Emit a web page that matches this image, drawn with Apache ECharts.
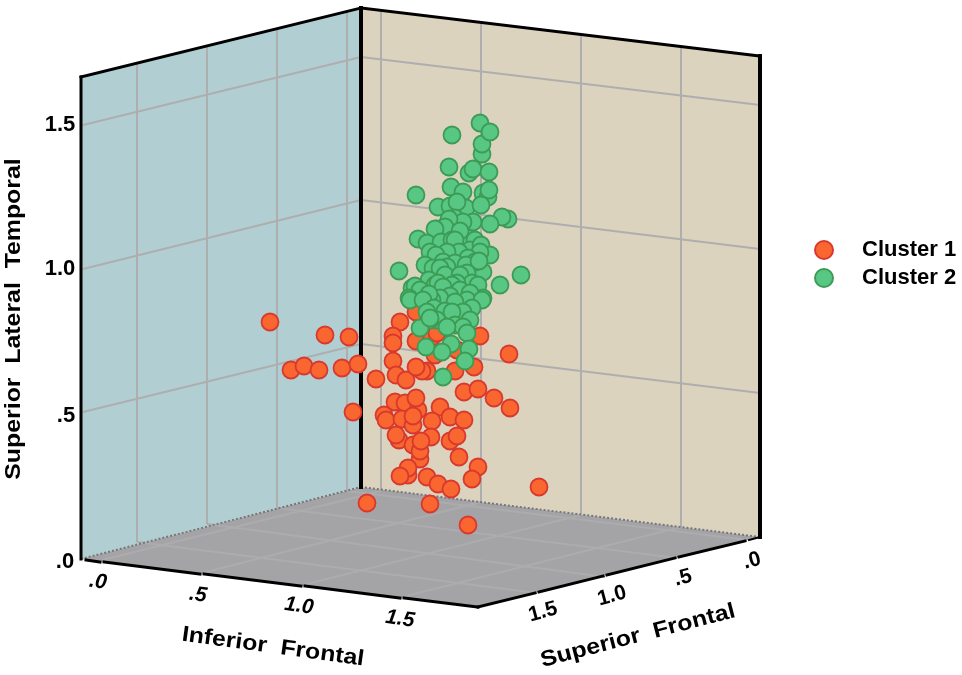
<!DOCTYPE html>
<html><head><meta charset="utf-8">
<style>html,body{margin:0;padding:0;background:#fff}#c{width:962px;height:675px}</style>
<script src="https://cdn.jsdelivr.net/npm/echarts@6/dist/echarts.min.js"></script>
</head><body><div id="c"></div>
<script>
// Values, on the chart's flat viewing plane.
const cluster1 = [[270,322],[325,335],[349,337],[291,370],[304,366],[319,370],[342,368],[358,364],[376,379],[353,412],[400,322],[416,312],[393,336],[393,343],[416,341],[432,337],[437,333],[435,355],[457,350],[393,361],[396,375],[406,380],[427,371],[422,371],[416,367],[455,371],[474,367],[480,336],[509,354],[464,392],[478,389],[494,398],[510,408],[395,402],[405,403],[418,410],[416,398],[440,407],[450,417],[464,420],[432,421],[384,415],[386,420],[402,419],[413,425],[413,416],[399,440],[396,435],[431,437],[450,441],[457,436],[413,445],[420,459],[420,451],[421,441],[459,457],[478,467],[472,479],[408,475],[408,468],[400,476],[427,477],[438,484],[451,489],[539,487],[367,503],[430,504],[468,525]];
const cluster2 = [[482,154],[482,144],[480,123],[490,132],[452,135],[449,167],[469,173],[473,169],[489,172],[416,195],[451,187],[483,193],[488,197],[489,190],[463,192],[438,207],[450,206],[466,208],[457,202],[481,205],[508,219],[502,217],[490,224],[473,222],[455,218],[463,222],[437,229],[446,226],[449,219],[445,227],[435,229],[467,238],[460,231],[418,239],[427,243],[441,242],[475,240],[452,240],[455,240],[470,250],[459,252],[481,245],[490,255],[480,252],[430,252],[447,252],[436,255],[468,258],[443,262],[521,275],[500,285],[399,271],[425,265],[483,272],[467,266],[455,263],[475,262],[433,268],[447,267],[440,268],[466,265],[479,261],[467,273],[445,275],[460,275],[429,280],[472,283],[478,285],[457,283],[452,285],[435,285],[438,283],[443,287],[460,290],[412,288],[415,286],[420,290],[409,298],[483,298],[470,293],[450,296],[440,298],[432,300],[425,300],[429,294],[467,300],[455,302],[482,300],[410,300],[423,300],[472,308],[434,308],[445,311],[427,312],[463,312],[452,312],[437,320],[455,325],[470,320],[430,320],[420,328],[430,318],[463,327],[467,333],[447,327],[426,347],[469,349],[451,344],[442,352],[465,361],[443,377]];
const seriesNames = ['Cluster 1','Cluster 2'];
const tickLabels = ['.0','.5','1.0','1.5'];
const axisTitles = ['Superior  Lateral  Temporal','Inferior  Frontal','Superior  Frontal'];

// Geometry of the box in the same plane.
const wallLeft = [[81,77],[361,8],[361,487],[81,559]];
const wallRight = [[361,8],[760,56],[760,537],[361,487]];
const floorPlane = [[81,559],[361,487],[760,537],[478,607]];
const gridLines = [
 [[137,63],[137,542]],[[207,47],[207,524]],[[277,30],[277,508]],[[347,12],[347,491]],
 [[83,125],[361,57]],[[83,269],[361,200]],[[83,412],[361,344]],
 [[381,10],[381,490]],[[481,22],[481,502]],[[581,34],[581,514]],[[681,47],[681,527]],
 [[361,57],[760,105]],[[361,200],[760,249]],[[361,344],[760,393]]];
const floorGrid = [
 [[102,560],[381,491]],[[202,573],[481,502]],[[303,585],[581,515]],[[402,597],[681,527]],
 [[347,491],[747,540]],[[277,508],[677,558]],[[207,524],[605,577]],[[137,542],[537,593]]];
const blackLines = [
 {p:[[81,77],[361,8]],w:3},{p:[[361,8],[760,56]],w:3},{p:[[81,77],[81,559]],w:3},
 {p:[[361,8],[361,487]],w:4},{p:[[760,56],[760,537]],w:4},
 {p:[[86,560],[100,562]],w:3},{p:[[104,562],[200,574]],w:3},{p:[[204,574],[301,586]],w:3},{p:[[305,586],[400,598]],w:3},{p:[[404,598],[478,607]],w:3},
 {p:[[478,607],[535,593]],w:3},{p:[[539,592],[603,576]],w:3},{p:[[607,575],[675,558]],w:3},{p:[[679,557],[745,541]],w:3},{p:[[749,540],[760,537]],w:2}];
const dashedEdges = [[[81,559],[361,487]],[[361,487],[760,537]]];
const texts = [
 {t:axisTitles[0],x:14,y:319,r:90,s:22,w:1.13},{t:axisTitles[1],x:273,y:647,r:-7.8,s:22,w:1.13},{t:axisTitles[2],x:638,y:636,r:14.5,s:22,w:1.13},
 {t:tickLabels[0],x:65,y:562,r:0,s:22},{t:tickLabels[1],x:66,y:416,r:0,s:22},{t:tickLabels[2],x:60,y:269,r:0,s:22},{t:tickLabels[3],x:60,y:125,r:0,s:22},
 {t:tickLabels[0],x:98,y:582,r:-8,s:21,k:1},{t:tickLabels[1],x:198,y:595,r:-8,s:21,k:1},{t:tickLabels[2],x:299,y:606,r:-8,s:21,k:1},{t:tickLabels[3],x:400,y:619,r:-8,s:21,k:1},
 {t:tickLabels[3],x:543,y:612,r:15,s:21},{t:tickLabels[2],x:612,y:596,r:15,s:21},{t:tickLabels[1],x:683,y:578,r:15,s:21},{t:tickLabels[0],x:752,y:561,r:15,s:21}];

const FONT = '"Liberation Sans", Arial, sans-serif';
function renderFrame(params, api){
  const c = p => api.coord(p);
  const kids = [];
  const poly = (pts, fill) => kids.push({type:'polygon',shape:{points:pts.map(c)},style:{fill}});
  poly(wallLeft,'#b1cfd2'); poly(wallRight,'#dcd3bf'); poly(floorPlane,'#a4a4a7');
  gridLines.forEach(l=>kids.push({type:'line',shape:{x1:c(l[0])[0],y1:c(l[0])[1],x2:c(l[1])[0],y2:c(l[1])[1]},style:{stroke:'#aeaeae',lineWidth:2}}));
  floorGrid.forEach(l=>kids.push({type:'line',shape:{x1:c(l[0])[0],y1:c(l[0])[1],x2:c(l[1])[0],y2:c(l[1])[1]},style:{stroke:'#acacae',lineWidth:2}}));
  dashedEdges.forEach(l=>{
    kids.push({type:'line',shape:{x1:c(l[0])[0],y1:c(l[0])[1],x2:c(l[1])[0],y2:c(l[1])[1]},style:{stroke:'#77777a',lineWidth:2,lineDash:[2,2]}});
  });
  blackLines.forEach(b=>kids.push({type:'polyline',shape:{points:b.p.map(c)},style:{stroke:'#000',lineWidth:b.w,fill:null,lineCap:'square',lineJoin:'miter'}}));
  return {type:'group',children:kids};
}
function renderTexts(params, api){
  const kids = texts.map(o=>{
    const p = api.coord([o.x,o.y]);
    return {type:'text',x:p[0],y:p[1],rotation:o.r*Math.PI/180,scaleX:o.w||1,
      style:{text:o.t,font:(o.k?'italic ':'')+'bold '+o.s+'px '+FONT,fill:'#000',textAlign:'center',textVerticalAlign:'middle'}};
  });
  return {type:'group',children:kids};
}
const marker = (fill,stroke)=>({color:fill,borderColor:stroke,borderWidth:1.8,opacity:1});
const chart = echarts.init(document.getElementById('c'),null,{renderer:'canvas'});
chart.setOption({
  animation:false, backgroundColor:'#fff',
  grid:{left:0,right:0,top:0,bottom:0,containLabel:false},
  xAxis:{type:'value',min:0,max:962,show:false},
  yAxis:{type:'value',min:0,max:675,inverse:true,show:false},
  legend:{orient:'vertical',left:809,top:234,itemWidth:18,itemHeight:18,itemGap:6,data:seriesNames,
    textStyle:{fontFamily:FONT,fontWeight:'bold',fontSize:22,color:'#000',padding:[0,0,0,24]},selectedMode:false},
  series:[
   {type:'custom',silent:true,clip:false,z:1,data:[[0,0]],renderItem:renderFrame},
   {type:'scatter',name:seriesNames[0],z:2,symbolSize:17,data:cluster1,itemStyle:marker('#fa6630','#d8392e'),silent:true},
   {type:'scatter',name:seriesNames[1],z:3,symbolSize:17,data:cluster2,itemStyle:marker('#58c784','#3c9c56'),silent:true},
   {type:'custom',silent:true,clip:false,z:4,data:[[0,0]],renderItem:renderTexts}
  ]
});
</script></body></html>
